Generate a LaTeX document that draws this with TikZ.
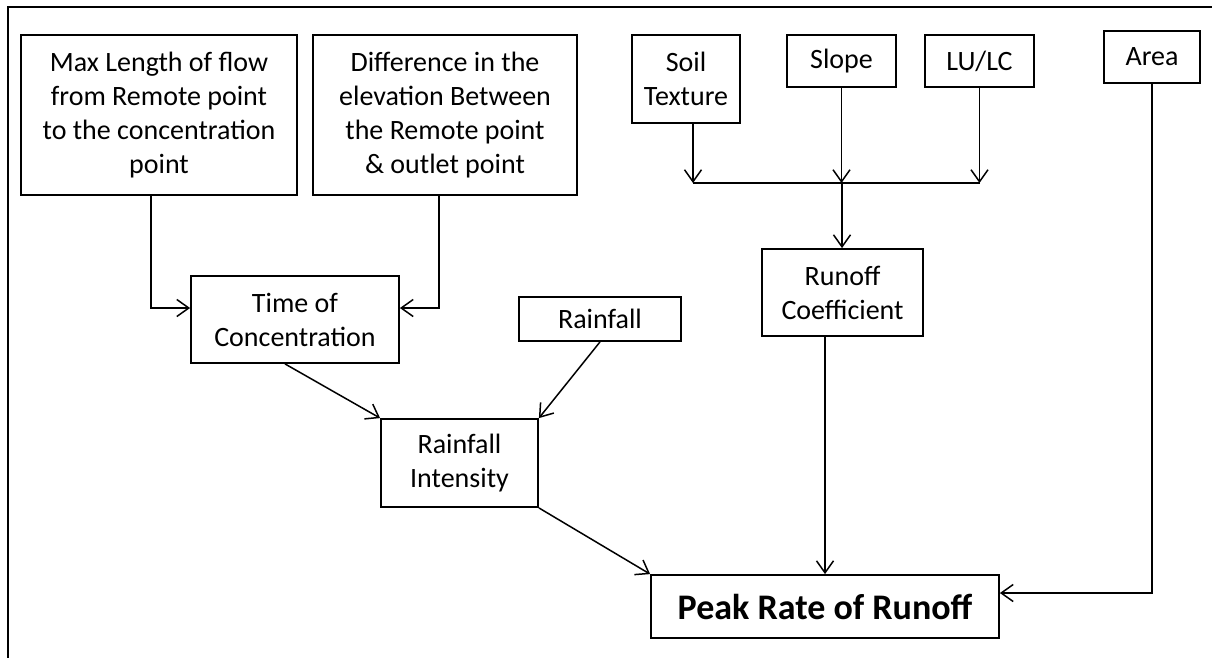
\documentclass[tikz,border=0pt]{standalone}
\usepackage{fontspec}
\setmainfont{Carlito}
\usetikzlibrary{arrows.meta,calc}
\begin{document}
\begin{tikzpicture}[x=1pt,y=-1pt,
  box/.style={draw,line width=1.8pt,inner sep=0pt,align=center,font=\fontsize{28}{34}\selectfont},
  arr/.style={line width=1.5pt,-{Straight Barb[length=12pt,width=17pt,line width=1.5pt]}},
  ln/.style={line width=1.5pt}]
\useasboundingbox (0,0) rectangle (1212,657);
\draw[line width=2.6pt] (8,660) -- (8,7) -- (1215,7);
\node[box,minimum width=276pt,minimum height=160pt] (maxl) at (159,115) {Max Length of flow\\from Remote point\\to the concentration\\point};
\node[box,minimum width=264pt,minimum height=160pt] (diff) at (445,115) {Difference in the\\elevation Between\\the Remote point\\\& outlet point};
\node[box,minimum width=108pt,minimum height=88pt] (soil) at (686,79) {Soil\\Texture};
\node[box,minimum width=109pt,minimum height=52pt] (slope) at (841.5,61) {Slope};
\node[box,minimum width=109pt,minimum height=52pt] (lulc) at (979.5,61) {LU/LC};
\node[box,minimum width=96pt,minimum height=52pt] (area) at (1152,57) {Area};
\node[box,minimum width=208pt,minimum height=87pt] (toc) at (295,319.5) {Time of\\Concentration};
\node[box,minimum width=162pt,minimum height=44pt] (rain) at (600,319) {Rainfall};
\node[box,minimum width=161pt,minimum height=87pt] (roc) at (842.5,292.5) {Runoff\\Coefficient};
\node[box,minimum width=157pt,minimum height=88pt] (ri) at (459.5,463) {Rainfall\\Intensity};
\node[box,minimum width=348pt,minimum height=63pt,font=\fontsize{36}{42}\selectfont\bfseries] (peak) at (825,606.5) {Peak Rate of Runoff};
\coordinate (j) at (842,183);
% Time of concentration inputs
\draw[arr] ([xshift=-8pt]maxl.south) |- ([yshift=11.5pt]toc.west);
\draw[arr] ([xshift=-6pt]diff.south) |- ([yshift=11.5pt]toc.east);
% runoff coefficient inputs
\draw[arr] ([xshift=7pt]soil.south) -- ([xshift=7pt]soil.south |- j);
\draw[arr] (slope.south) -- (slope.south |- j);
\draw[arr] (lulc.south) -- (lulc.south |- j);
\draw[ln] ([xshift=7pt]soil.south |- j) -- (lulc.south |- j);
\draw[arr] (j) -- (roc.north -| j);
% rainfall intensity
\draw[arr] ([xshift=-10pt]toc.south) -- (ri.north west);
\draw[arr] (rain.south) -- (ri.north east);
% peak
\draw[arr] (ri.south east) -- (peak.north west);
\draw[arr] (roc.south -| peak.north) -- (peak.north);
\draw[arr] (area.south) |- ([yshift=13.5pt]peak.east);
\end{tikzpicture}
\end{document}
